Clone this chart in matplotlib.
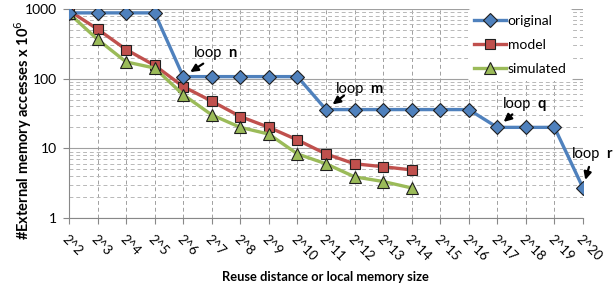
import matplotlib
matplotlib.use("Agg")
import matplotlib.pyplot as plt
from matplotlib.ticker import LogLocator, NullFormatter

plt.rcParams['font.family'] = ['Lato', 'DejaVu Sans']

x_labels = ["2^%d" % i for i in range(2, 21)]
original = [880, 880, 880, 880, 107, 107, 107, 107, 107, 36, 36, 36, 36, 36, 36, 20, 20, 20, 2.7]
model = [950, 514, 262, 155, 77, 47.5, 28.6, 20, 13.2, 8.3, 6.0, 5.45, 4.9]
simulated = [866, 366, 174, 142, 58.8, 30.2, 20, 16, 8.3, 6.0, 3.9, 3.34, 2.7]

annotations = [("n", 4, original[4], (11, 24), (20, 13)),
               ("m", 9, original[9], (10, 21), (18, 14)),
               ("q", 15, original[15], (6, 23), (15, 13)),
               ("r", 18, original[18], (-11, 34), (6, 21))]

fig = plt.figure(figsize=(6.13, 2.87), dpi=100)
ax = fig.add_axes([69/613, 1-218/287, (583-69)/613, (218-9)/287])

blue, red, green = '#4F81BD', '#C0504D', '#9BBB59'
ax.plot(range(len(original)), original, color=blue, lw=2.4, marker='D', ms=7,
        mfc=blue, mec='#1F1F1F', mew=0.8, label='original', zorder=5)
ax.plot(range(len(model)), model, color=red, lw=2.4, marker='s', ms=7.5,
        mfc=red, mec='#1F1F1F', mew=0.8, label='model', zorder=4)
ax.plot(range(len(simulated)), simulated, color=green, lw=2.4, marker='^', ms=8,
        mfc=green, mec='#1F1F1F', mew=0.8, label='simulated', zorder=4)

ax.set_yscale('log')
ax.set_ylim(1, 1000)
ax.set_xlim(0, len(x_labels) - 1)
ax.set_xticks(range(len(x_labels)))
ax.set_xticklabels(x_labels, rotation=-45, ha='left', va='top', rotation_mode='anchor', fontsize=9.5)
ax.set_yticks([1, 10, 100, 1000])
ax.set_yticklabels(['1', '10', '100', '1000'], fontsize=10)
ax.yaxis.set_minor_locator(LogLocator(base=10, subs=range(2, 10)))
ax.yaxis.set_minor_formatter(NullFormatter())
ax.tick_params(axis='y', which='minor', length=0)
ax.tick_params(axis='both', which='major', length=4, color='#888888', width=0.8)
ax.tick_params(axis='x', pad=7)
ax.tick_params(axis='y', pad=5)

ax.grid(True, which='major', axis='y', color='#A0A0A0', lw=0.8, ls='-')
ax.grid(True, which='minor', axis='y', color='#B8B8B8', lw=0.7, ls=(0, (4, 3)))
ax.grid(True, which='major', axis='x', color='#A0A0A0', lw=0.7, ls=(0, (4, 3)))
ax.set_axisbelow(True)
for s in ['top', 'right']:
    ax.spines[s].set_visible(False)
for s in ['left', 'bottom']:
    ax.spines[s].set_color('#888888')
    ax.spines[s].set_linewidth(0.8)

ax.set_ylabel('#External memory accesses x 10$^6$', fontsize=10.5, fontweight='bold')
ax.yaxis.set_label_coords(-0.068, 0.42)
ax.set_xlabel('Reuse distance or local memory size', fontsize=9.3, fontweight='bold')
ax.xaxis.set_label_coords(0.498, -0.255)

for letter, xi, yv, toff, aoff in annotations:
    t = ax.annotate('loop', xy=(xi, yv), xytext=toff, textcoords='offset pixels',
                    fontsize=10.5, ha='left', va='center', zorder=6)
    ax.annotate(letter, xy=(1, 0.5), xycoords=t, xytext=(6, 0), textcoords='offset pixels',
                fontsize=10.5, fontweight='bold', ha='left', va='center', zorder=6)
    ax.annotate('', xy=(xi, yv), xytext=aoff, textcoords='offset pixels',
                arrowprops=dict(arrowstyle='-|>,head_length=0.45,head_width=0.22', color='black',
                                lw=1.6, shrinkA=0, shrinkB=6), zorder=6)

leg = ax.legend(loc='upper right', bbox_to_anchor=(0.98, 1.0), frameon=True, fontsize=10,
                handlelength=2.3, handletextpad=0.1, labelspacing=0.85, borderpad=0.45,
                borderaxespad=0)
leg.get_frame().set_edgecolor('none')
leg.get_frame().set_facecolor('white')
leg.get_frame().set_alpha(1)
leg.set_zorder(3)

fig.savefig('out.png', dpi=100)
